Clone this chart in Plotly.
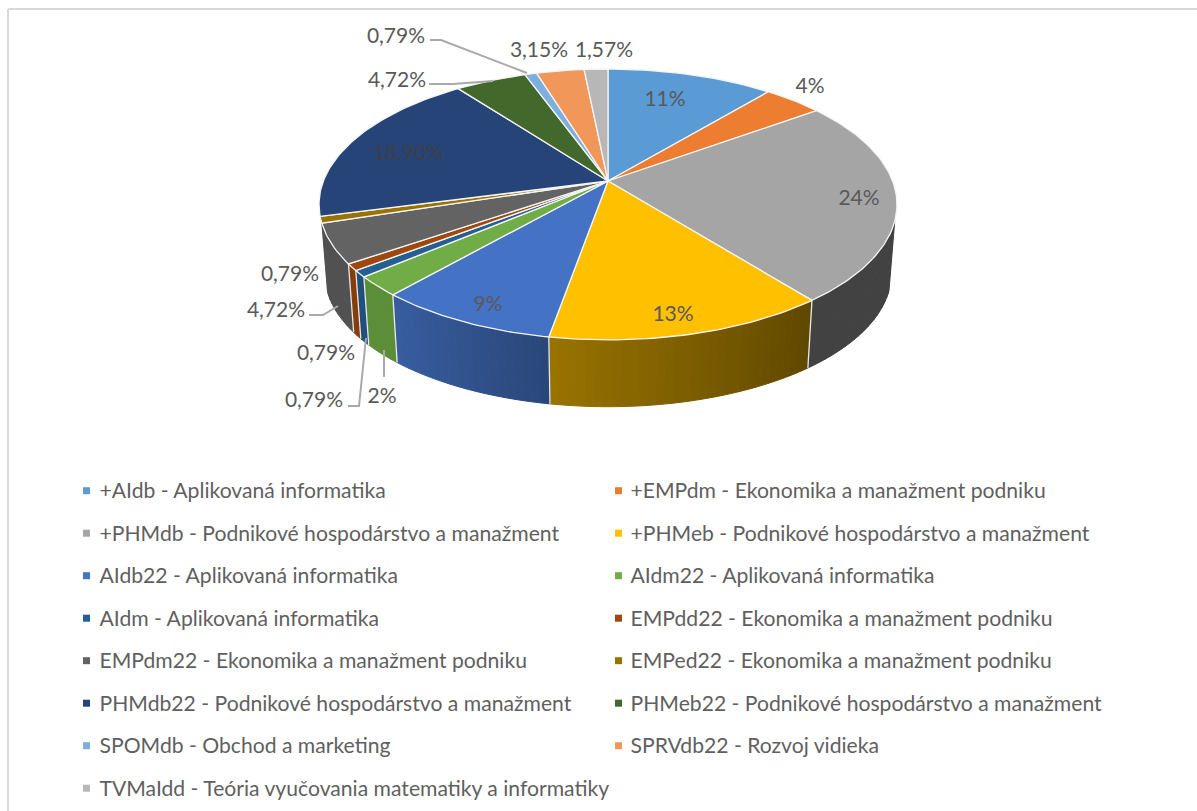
import numpy as np
import plotly.graph_objects as go

# slices, clockwise from 12 o'clock
programs = ['+AIdb - Aplikovaná informatika', '+EMPdm - Ekonomika a manažment podniku',
            '+PHMdb - Podnikové hospodárstvo a manažment', '+PHMeb - Podnikové hospodárstvo a manažment',
            'AIdb22 - Aplikovaná informatika', 'AIdm22 - Aplikovaná informatika',
            'AIdm - Aplikovaná informatika', 'EMPdd22 - Ekonomika a manažment podniku',
            'EMPdm22 - Ekonomika a manažment podniku', 'EMPed22 - Ekonomika a manažment podniku',
            'PHMdb22 - Podnikové hospodárstvo a manažment', 'PHMeb22 - Podnikové hospodárstvo a manažment',
            'SPOMdb - Obchod a marketing', 'SPRVdb22 - Rozvoj vidieka',
            'TVMaIdd - Teória vyučovania matematiky a informatiky']
shares = [11.02, 3.94, 24.41, 13.39, 8.66, 2.36, 0.79, 0.79, 4.72, 0.79, 18.90, 4.72, 0.79, 3.15, 1.57]
share_labels = ['11%', '4%', '24%', '13%', '9%', '2%', '0,79%', '0,79%', '4,72%', '0,79%',
                '18,90%', '4,72%', '0,79%', '3,15%', '1,57%']

colors = ['#5B9BD5', '#ED7D31', '#A5A5A5', '#FFC000', '#4472C4', '#70AD47', '#255E91', '#9E480E',
          '#636363', '#997300', '#264478', '#43682B', '#7CAFDD', '#F1975A', '#B7B7B7']
# wall brightness, left end and right end of each slice
wall_light = [(.4, .4), (.4, .4), (.4, .4), (.6, .37), (.82, .62), (.82, .82), (.85, .85), (.85, .85),
              (.82, .82), (.8, .8), (.8, .8), (.8, .8), (.8, .8), (.8, .8), (.8, .8)]

# picture is laid out in pixels
cx, cy = 608, 181
a, b, k = 284.6, 131.4, 0.173
wall_scale, wall_drop = 0.98, 70
wall_from = 40  # rim has to be this far under the apex before the wall shows


def top_rim(theta):
    X, Y = np.sin(theta), -np.cos(theta)
    d = 1 - k * Y
    return a * X / d, b * Y / d


def shade(hex_color, f):
    r, g, b_ = [int(hex_color[i:i + 2], 16) for i in (1, 3, 5)]
    return f'rgb({r * f:.0f},{g * f:.0f},{b_ * f:.0f})'


edges = np.radians(np.concatenate([[0], np.cumsum(shares)]) / sum(shares) * 360)

fig = go.Figure()

# side walls, cut into strips for the shading
for i, color in enumerate(colors):
    t0, t1 = edges[i], edges[i + 1]
    n = max(2, int(np.degrees(t1 - t0) / 1.5))
    ts = np.linspace(t0, t1, n + 1)
    for j in range(n):
        px, py = top_rim(np.linspace(ts[j], ts[j + 1], 3))
        if py.min() < wall_from:
            continue
        qx, qy = px * wall_scale, py * wall_scale + wall_drop
        f = wall_light[i][0] + (wall_light[i][1] - wall_light[i][0]) * (1 - (j + .5) / n)
        fc = shade(color, f)
        fig.add_trace(go.Scatter(
            x=np.concatenate([px, qx[::-1], px[:1]]) + cx,
            y=np.concatenate([py, qy[::-1], py[:1]]) + cy,
            mode='lines', fill='toself', fillcolor=fc,
            line=dict(color=fc, width=1), hoverinfo='skip'))

# light outline of the walls
for t in edges:
    px, py = top_rim(t)
    if py > wall_from + 5:
        fig.add_trace(go.Scatter(
            x=[px + cx, px * wall_scale + cx], y=[py + cy, py * wall_scale + wall_drop + cy],
            mode='lines', line=dict(color='#e8e8e8', width=1.3), hoverinfo='skip'))

# top faces
for i, color in enumerate(colors):
    ts = np.linspace(edges[i], edges[i + 1], max(3, int(np.degrees(edges[i + 1] - edges[i]))))
    px, py = top_rim(ts)
    fig.add_trace(go.Scatter(
        x=np.concatenate([[cx], px + cx, [cx]]), y=np.concatenate([[cy], py + cy, [cy]]),
        mode='lines', fill='toself', fillcolor=color,
        line=dict(color='#f4f4f4', width=1.3), hoverinfo='skip'))

# leader lines
leaders = [([430, 441, 527], [40, 40, 73]),
           ([429, 453, 493], [84, 84, 81]),
           ([309, 323, 338], [315, 315, 306]),
           ([384, 384], [350, 377]),
           ([348, 359, 366], [406, 406, 338])]
for lx, ly in leaders:
    fig.add_trace(go.Scatter(x=lx, y=ly, mode='lines', line=dict(color='#A9A9A9', width=2), hoverinfo='skip'))

# data labels
label_x = [665, 810, 859, 673, 488, 382, 314, 326, 276, 290, 408, 397, 396, 539, 604]
label_y = [100.5, 87.5, 199.5, 315.5, 305.5, 397.5, 401.5, 354.5, 311.5, 275.5, 154.5, 81.5, 37.5, 51.5, 51.5]
label_colors = ['#3c4048' if s == '18,90%' else '#595959' for s in share_labels]
fig.add_trace(go.Scatter(x=label_x, y=label_y, mode='text', text=share_labels, hoverinfo='skip',
                         textfont=dict(family='Lato', size=21, color=label_colors)))

# legend in two columns
col_x = [86.5, 618.5]
row_y = [490.7 + 42.5 * r for r in range(8)]
leg_x = [col_x[i % 2] for i in range(len(programs))]
leg_y = [row_y[i // 2] for i in range(len(programs))]
fig.add_trace(go.Scatter(x=leg_x, y=leg_y, mode='markers', hoverinfo='skip',
                         marker=dict(symbol='square', size=7, color=colors)))
fig.add_trace(go.Scatter(x=[v + (13 if v < 300 else 12) for v in leg_x], y=[v + 2.5 for v in leg_y],
                         mode='text', text=programs,
                         textposition='middle right', hoverinfo='skip',
                         textfont=dict(family='Lato', size=21.15, color='#5f5f5f')))

fig.update_layout(
    width=1197, height=811,
    margin=dict(l=0, r=0, t=0, b=0),
    paper_bgcolor='white', plot_bgcolor='white',
    showlegend=False,
    xaxis=dict(range=[0, 1197], visible=False),
    yaxis=dict(range=[811, 0], visible=False),
    shapes=[dict(type='line', xref='x', yref='y', x0=8, x1=8, y0=9, y1=811, line=dict(color='#d9d9d9', width=2)),
            dict(type='line', xref='x', yref='y', x0=8, x1=1197, y0=9, y1=9, line=dict(color='#d9d9d9', width=2))],
)

fig.write_html("out.html", config={'displayModeBar': False}, post_script="document.body.style.margin='0';")
